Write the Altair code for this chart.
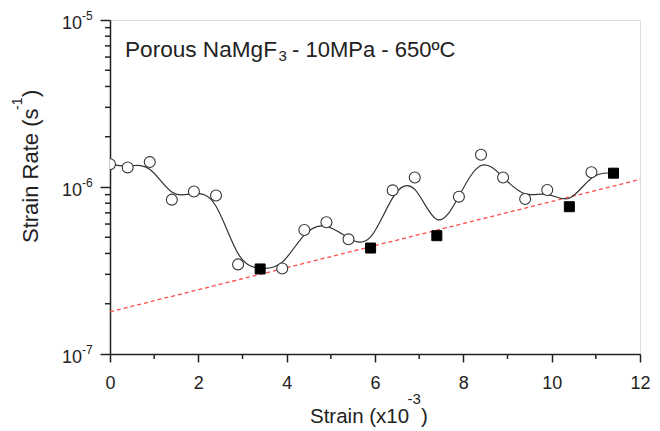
import altair as alt
import pandas as pd

# ---- data ----
strain = [0.0, 0.4, 0.9, 1.4, 1.9, 2.4, 2.9, 3.4, 3.9, 4.4, 4.9, 5.4,
          5.9, 6.4, 6.9, 7.4, 7.9, 8.4, 8.9, 9.4, 9.9, 10.4, 10.9, 11.4]
rate = [1.37e-6, 1.31e-6, 1.41e-6, 8.4e-7, 9.4e-7, 8.9e-7, 3.44e-7, 3.23e-7,
        3.25e-7, 5.53e-7, 6.15e-7, 4.86e-7, 4.31e-7, 9.55e-7, 1.14e-6, 5.11e-7,
        8.75e-7, 1.56e-6, 1.14e-6, 8.47e-7, 9.59e-7, 7.62e-7, 1.225e-6, 1.21e-6]
kind = ["open", "open", "open", "open", "open", "open", "open", "filled",
        "open", "open", "open", "open", "filled", "open", "open", "filled",
        "open", "open", "open", "open", "open", "filled", "open", "filled"]

fit_strain = [0.0, 12.0]
fit_rate = [1.79e-7, 1.11e-6]

x_major = [0, 2, 4, 6, 8, 10, 12]
x_minor = [1, 3, 5, 7, 9, 11]
y_major = [1e-7, 1e-6, 1e-5]
y_major_sup = ["-7", "-6", "-5"]
y_minor = [2e-7, 3e-7, 4e-7, 5e-7, 6e-7, 7e-7, 8e-7, 9e-7,
           2e-6, 3e-6, 4e-6, 5e-6, 6e-6, 7e-6, 8e-6, 9e-6]

title_main = "Porous NaMgF"
title_sub = "3"
title_rest = "- 10MPa - 650ºC"
xtitle_main = "Strain (x10"
xtitle_sup = "-3"
xtitle_end = ")"
ytitle_main = "Strain Rate (s"
ytitle_sup = "-1"
ytitle_end = ")"

FONT = "Liberation Sans"
INK = "#222222"
W, H = 530, 334

df = pd.DataFrame({"strain": strain, "rate": rate, "kind": kind})
fit_df = pd.DataFrame({"strain": fit_strain, "rate": fit_rate})

xs = alt.Scale(domain=[0, 12], nice=False, zero=False)
ys = alt.Scale(type="log", domain=[1e-7, 1e-5], nice=False)

x_axis = alt.Axis(values=x_major, title=None, grid=False, labelFontSize=18,
                  labelFont=FONT, labelColor=INK, tickSize=8, tickWidth=1.5,
                  tickColor=INK, domainColor=INK, domainWidth=1.5,
                  labelPadding=12, labelFlush=False)
y_axis = alt.Axis(values=y_major, title=None, grid=False, labels=False,
                  tickSize=10, tickWidth=1.5, tickColor=INK, domainColor=INK,
                  domainWidth=1.5)

X = alt.X("strain:Q", scale=xs, axis=x_axis)
Y = alt.Y("rate:Q", scale=ys, axis=y_axis)

fit = alt.Chart(fit_df).mark_line(color="#ff4a4a", strokeWidth=1.3,
                                  strokeDash=[4, 3]).encode(x=X, y=Y)
curve = alt.Chart(df).mark_line(interpolate="basis", color="#333333",
                                strokeWidth=1.2).encode(x=X, y=Y, order="strain:Q")
opens = alt.Chart(df).transform_filter(alt.datum.kind == "open").mark_point(
    shape="circle", filled=True, fill="white", stroke="#333333", strokeWidth=1.1,
    size=120, opacity=1, clip=True).encode(x=X, y=Y)
filled = alt.Chart(df).transform_filter(alt.datum.kind == "filled").mark_point(
    shape="square", filled=True, fill="black", stroke="black", strokeWidth=1,
    size=100, opacity=1).encode(x=X, y=Y)

# minor ticks
xminor = alt.Chart(pd.DataFrame({"v": x_minor})).mark_rule(
    color=INK, strokeWidth=1.5).encode(
    x=alt.X("v:Q", scale=xs), y=alt.value(H), y2=alt.value(H + 5))
yminor = alt.Chart(pd.DataFrame({"v": y_minor})).mark_rule(
    color=INK, strokeWidth=1.5).encode(
    y=alt.Y("v:Q", scale=ys), x=alt.value(-5), x2=alt.value(0))

# y tick labels 10^n
ylab_df = pd.DataFrame({"v": y_major, "base": ["10"] * 3, "sup": y_major_sup})
ylab = alt.Chart(ylab_df).mark_text(align="right", baseline="alphabetic", dy=9,
                                    fontSize=18, font=FONT, color=INK).encode(
    y=alt.Y("v:Q", scale=ys), x=alt.value(-28), text="base:N")
ysup = alt.Chart(ylab_df).mark_text(align="left", baseline="alphabetic", dy=0,
                                    fontSize=12, font=FONT, color=INK).encode(
    y=alt.Y("v:Q", scale=ys), x=alt.value(-28), text="sup:N")


def txt(s, x, y, size, angle=0, align="left"):
    return alt.Chart(pd.DataFrame({"t": [s]})).mark_text(
        align=align, baseline="alphabetic", fontSize=size, font=FONT,
        color=INK, angle=angle).encode(x=alt.value(x), y=alt.value(y), text="t:N")


texts = [
    txt(title_main, 15, 37, 22.6),
    txt(title_sub, 168.5, 41, 15),
    txt(title_rest, 182, 37, 22),
    txt(xtitle_main, 200, 403, 20.5),
    txt(xtitle_sup, 297.5, 384, 15),
    txt(xtitle_end, 311, 403, 20.5),
    txt(ytitle_main, -72, 223, 22, angle=270),
    txt(ytitle_sup, -88, 90, 14, angle=270),
    txt(ytitle_end, -72, 77, 22, angle=270),
]

chart = alt.layer(fit, curve, opens, filled, xminor, yminor, ylab, ysup,
                  *texts).properties(
    width=W, height=H,
    autosize=alt.AutoSizeParams(type="none"),
    padding={"left": 102, "top": 12, "right": 12, "bottom": 80},
).configure_view(stroke=INK, strokeWidth=1.5).configure(background="white")

chart.save("out.html", embed_options={"renderer": "svg", "actions": False})
